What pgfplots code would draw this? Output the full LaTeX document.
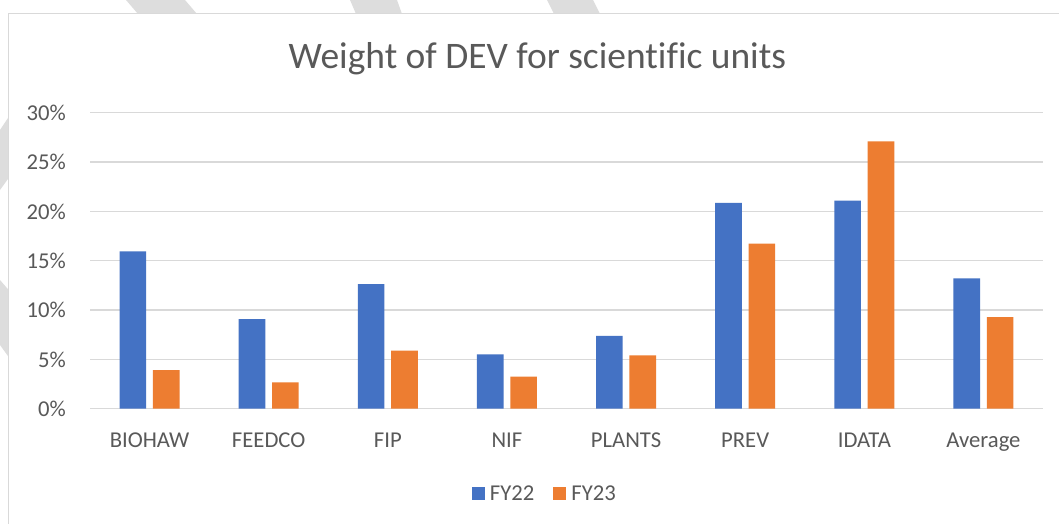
\documentclass[border=0pt]{standalone}
\usepackage{fontspec}
\setmainfont{Carlito}[Ligatures=NoCommon]
\usepackage{pgfplots}
\pgfplotsset{compat=1.18}
\definecolor{fyblue}{HTML}{4472C4}
\definecolor{fyorange}{HTML}{ED7D31}
\definecolor{gridgrey}{HTML}{D9D9D9}
\definecolor{txtgrey}{HTML}{595959}
\definecolor{stripe}{HTML}{DDDDDD}
\begin{document}
\begin{tikzpicture}
\path[use as bounding box] (0,0) rectangle (794.25pt,-393pt);
\clip (0,0) rectangle (794.25pt,-393pt);
% background watermark stripes (px*0.75)
\fill[stripe] (94.5pt,0) -- (138.75pt,0) -- (147.75pt,-10.5pt) -- (103.5pt,-10.5pt) -- cycle;
\fill[stripe] (262.5pt,0) -- (297.75pt,0) -- (301.5pt,-10.5pt) -- (267pt,-10.5pt) -- cycle;
\fill[stripe] (410.25pt,0) -- (444.75pt,0) -- (450pt,-10.5pt) -- (415.5pt,-10.5pt) -- cycle;
\fill[stripe] (0,-97.5pt) -- (6.5pt,-87.75pt) -- (6.5pt,-133.5pt) -- (0,-142.5pt) -- cycle;
\fill[stripe] (0,-210pt) -- (6.5pt,-217.5pt) -- (6.5pt,-267.75pt) -- (0,-258.75pt) -- cycle;
% chart frame
\draw[gridgrey, line width=0.9pt, fill=white] (6.3pt,-9.9pt) rectangle (800pt,-410pt);
% title
\node[anchor=base, text=txtgrey, font=\fontsize{28.1pt}{33pt}\selectfont, inner sep=0pt] at (403pt,-51.5pt) {Weight of DEV for scientific units};
\begin{axis}[
  at={(67.5pt,-306.525pt)}, anchor=south west,
  scale only axis, width=714.75pt, height=222pt,
  ybar=5pt, bar width=20pt,
  xmin=-0.5, xmax=7.5, ymin=0, ymax=30,
  xtick=data,
  xticklabels={BIOHAW,FEEDCO,FIP,NIF,PLANTS,PREV,IDATA,Average},
  ytick={0,5,10,15,20,25,30},
  yticklabels={0\%,5\%,10\%,15\%,20\%,25\%,30\%},
  axis line style={draw=none},
  major tick length=0pt,
  ymajorgrids,
  major grid style={gridgrey, line width=0.9pt},
  tick label style={text=txtgrey, font=\fontsize{17pt}{20pt}\selectfont},
  yticklabel style={anchor=east, inner sep=0pt, xshift=-18pt},
  xticklabel style={anchor=base, inner sep=0pt, yshift=-29.25pt},
  legend style={at={(rel axis cs:0.4775,-0.288)}, anchor=center, draw=none, fill=none,
    font=\fontsize{17pt}{20pt}\selectfont, text=txtgrey,
    legend columns=2,
    /tikz/every odd column/.append style={column sep=2pt},
    /tikz/every even column/.append style={column sep=12pt}},
  legend image code/.code={\fill[#1] (0pt,-4.875pt) rectangle (9.75pt,4.875pt);},
]
\addplot[fill=fyblue, draw=none] coordinates {(0,15.95) (1,9.09) (2,12.63) (3,5.51) (4,7.37) (5,20.87) (6,21.10) (7,13.20)};
\addplot[fill=fyorange, draw=none] coordinates {(0,3.92) (1,2.67) (2,5.88) (3,3.24) (4,5.41) (5,16.72) (6,27.10) (7,9.29)};
\legend{FY22,FY23}
\end{axis}
\end{tikzpicture}
\end{document}
